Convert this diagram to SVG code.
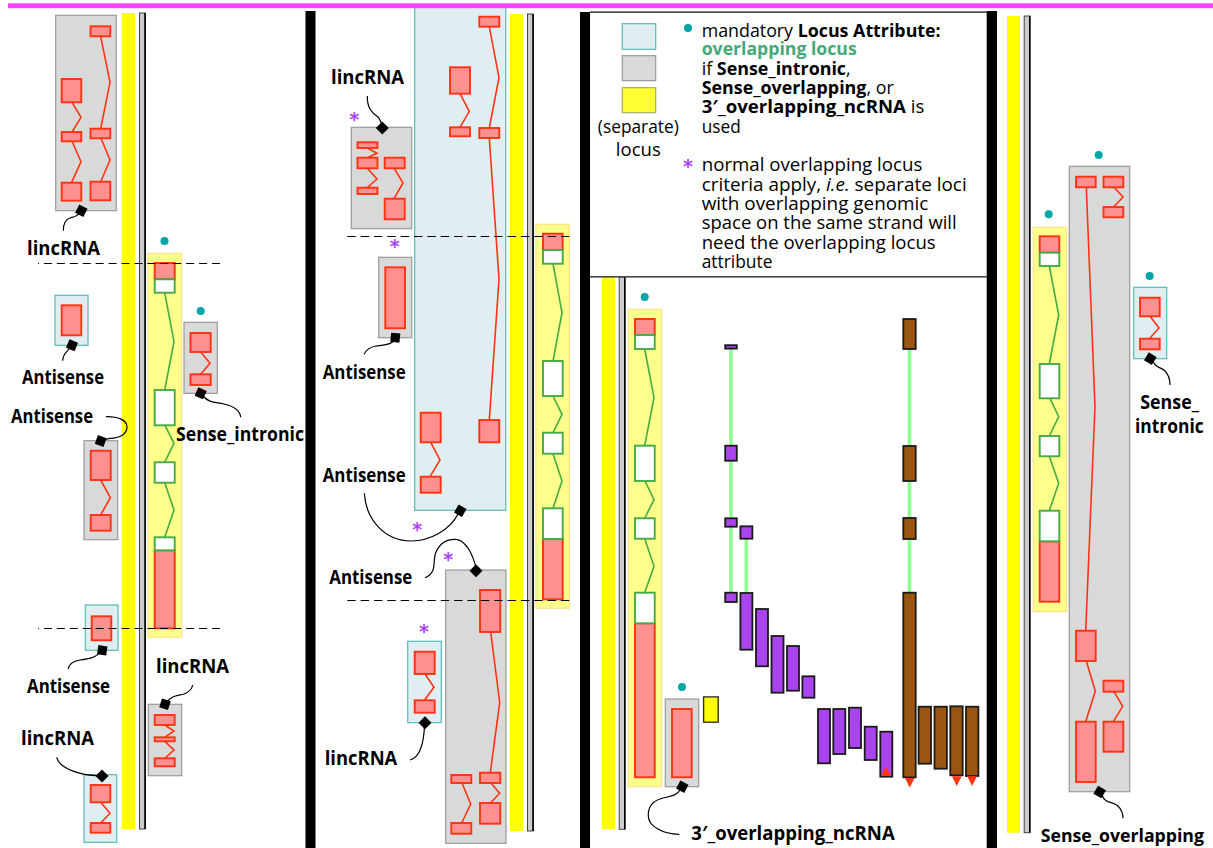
<svg xmlns="http://www.w3.org/2000/svg" xmlns:xlink="http://www.w3.org/1999/xlink" width="1213" height="848" viewBox="0 0 1213 848">
<style>
text{font-family:"Open Sans","Noto Sans","Liberation Sans",sans-serif;fill:#000}
.l{font-weight:700;font-size:19px}
.t{font-size:18px}
.b{font-weight:700}
.ast{font-family:"DejaVu Sans",sans-serif;font-weight:700;font-size:19px;fill:#aa44ff;text-anchor:middle}
.dot{fill:#00a6a6}
.gbox{fill:#d9d9d9;stroke:#999;stroke-width:1.2}
.bbox{fill:#e0eef2;stroke:#55bbbb;stroke-width:1.2}
.pale{fill:#ffff8c;stroke:#ffe08c;stroke-width:1.2}
.yb{fill:#ffff00}
.st{fill:#ccc;stroke:#444;stroke-width:1}
.ex{fill:#ff9090;stroke:#ff3311;stroke-width:1.9}
.wx{fill:#fff;stroke:#44aa44;stroke-width:1.9}
.rl{fill:none;stroke:#ff3311;stroke-width:1.6}
.gl{fill:none;stroke:#44aa44;stroke-width:1.6}
.pu{fill:#aa44ee;stroke:#1a1a1a;stroke-width:1.8}
.br{fill:#995511;stroke:#1a1a1a;stroke-width:1.8}
.in{stroke:#90ff90;stroke-width:3.6;fill:none}
.tri{fill:#ff3311}
.dash{stroke:#000;stroke-width:1.2;fill:none}
.d1{stroke-dasharray:8 4.93;stroke-dashoffset:7}
.d2{stroke-dasharray:8.45 4.9}
.c{fill:none;stroke:#000;stroke-width:1.2}
.bar{fill:#000}
</style>
<defs>
<rect id="d" x="-4.6" y="-4.6" width="9.2" height="9.2" fill="#000"/>
</defs>

<g id="tracks">
<rect class="yb" x="121.7" y="13" width="13.3" height="816"/>
<rect class="st" x="139.5" y="13" width="5.6" height="816"/><rect x="144.3" y="13" width="1.6" height="816"/>
<rect class="yb" x="510" y="14" width="13" height="817"/>
<rect class="st" x="527.5" y="14" width="5.6" height="817"/><rect x="532.3" y="14" width="1.6" height="817"/>
<rect class="yb" x="602" y="277" width="13" height="552.3"/>
<rect class="st" x="619.2" y="277" width="5.6" height="552.3"/><rect x="624" y="277" width="1.6" height="552.3"/>
<rect class="yb" x="1007" y="16" width="13" height="816.7"/>
<rect class="st" x="1024.2" y="16" width="5.6" height="816.7"/><rect x="1029" y="16" width="1.6" height="816.7"/>
</g>

<!-- panel 1 -->
<g id="p1-lincRNA-top">
<rect class="gbox" x="55.7" y="15.3" width="60.6" height="195.4"/>
<polyline class="rl" points="72,102.3 81,117.3 72,132"/><polyline class="rl" points="72,141.3 81,161.7 71.5,182.7"/>
<polyline class="rl" points="100.7,36.3 110,82.3 100.7,128.7"/><polyline class="rl" points="101,138.3 110,160 100.7,181.7"/>
<rect class="ex" x="61.7" y="79" width="19.6" height="23.3"/><rect class="ex" x="61.7" y="132" width="19.6" height="9.3"/><rect class="ex" x="61.7" y="182.7" width="19.6" height="18"/>
<rect class="ex" x="90.5" y="26.3" width="19.8" height="10"/><rect class="ex" x="90.5" y="128.7" width="19.8" height="9.6"/><rect class="ex" x="90.5" y="181.7" width="19.8" height="18.6"/>
<text class="l" x="27" y="255" textLength="73" lengthAdjust="spacingAndGlyphs">lincRNA</text>
</g>
<g id="p1-overlap-gene">
<circle class="dot" cx="164.5" cy="241" r="4"/>
<rect class="pale" x="148" y="253.3" width="33.7" height="384"/>
<polyline class="gl" points="164.7,292.7 174,341.7 164.7,390"/><polyline class="gl" points="165,425.3 174,443.3 164.7,462.3"/><polyline class="gl" points="164.7,482.7 174,510 164.7,537.3"/>
<rect class="ex" x="154.7" y="263" width="20" height="16.3"/><rect class="wx" x="154.7" y="279.3" width="20" height="13.4"/>
<rect class="wx" x="154.7" y="390" width="20" height="35.3"/><rect class="wx" x="154.7" y="462.3" width="20" height="20.4"/>
<rect class="ex" x="154.7" y="550.3" width="20" height="78"/><rect class="wx" x="154.7" y="537.3" width="20" height="13"/>
</g>
<g id="p1-sense-intronic">
<circle class="dot" cx="200.7" cy="311" r="4"/>
<rect class="gbox" x="184" y="322.3" width="33.3" height="71"/>
<polyline class="rl" points="200.7,352 210,363.3 200.7,374.3"/>
<rect class="ex" x="190.5" y="333" width="20.2" height="19"/><rect class="ex" x="190.5" y="374.3" width="20.2" height="10.7"/>
<text class="l" x="176" y="441" textLength="128" lengthAdjust="spacingAndGlyphs">Sense_intronic</text>
</g>
<g id="p1-antisense-a">
<rect class="bbox" x="55" y="295.3" width="33" height="50"/>
<rect class="ex" x="61.7" y="305.3" width="19.6" height="30"/>
<text class="l" x="22" y="384.4" textLength="82" lengthAdjust="spacingAndGlyphs">Antisense</text>
</g>
<g id="p1-antisense-b">
<rect class="gbox" x="84" y="440.7" width="33.7" height="99"/>
<polyline class="rl" points="100.7,480 110.3,497.7 100.7,515"/>
<rect class="ex" x="90.7" y="450.7" width="20" height="29.3"/><rect class="ex" x="90.7" y="515" width="20" height="15.7"/>
<text class="l" x="11" y="423" textLength="82" lengthAdjust="spacingAndGlyphs">Antisense</text>
</g>
<g id="p1-antisense-c">
<rect class="bbox" x="85.3" y="605" width="32.7" height="45.3"/>
<rect class="ex" x="91.7" y="616.3" width="19.6" height="24"/>
<text class="l" x="27" y="693" textLength="83" lengthAdjust="spacingAndGlyphs">Antisense</text>
</g>
<g id="p1-lincRNA-left">
<rect class="bbox" x="84" y="774.7" width="32.7" height="67.6"/>
<polyline class="rl" points="100.7,802.3 110,813.3 100.7,823"/>
<rect class="ex" x="90.7" y="785" width="19.6" height="17.3"/><rect class="ex" x="90.7" y="823" width="19.6" height="9.7"/>
<text class="l" x="21" y="745.4" textLength="73" lengthAdjust="spacingAndGlyphs">lincRNA</text>
</g>
<g id="p1-lincRNA-right">
<rect class="gbox" x="148.3" y="704.3" width="33.4" height="71.4"/>
<polyline class="rl" points="164.7,725 174,731 164.7,737.3"/><polyline class="rl" points="164.7,741.3 174,750 164.7,758.3"/>
<rect class="ex" x="154.7" y="715" width="20" height="10"/><rect class="ex" x="154.7" y="737.3" width="20" height="4"/><rect class="ex" x="154.7" y="758.3" width="20" height="8"/>
<text class="l" x="156" y="673.4" textLength="73" lengthAdjust="spacingAndGlyphs">lincRNA</text>
</g>

<!-- panel 2 -->
<g id="p2-lincRNA-blue">
<rect class="bbox" x="414.7" y="6" width="91" height="504.3"/>
<polyline class="rl" points="489.3,26.7 499,77.7 489.3,128"/><polyline class="rl" points="489.3,138 499,279.3 489.3,420"/>
<polyline class="rl" points="460,93.7 469.3,111.3 460,127.3"/><polyline class="rl" points="430.7,442.3 440,460 430,476.7"/>
<rect class="ex" x="479.3" y="16.7" width="20" height="10"/><rect class="ex" x="479.3" y="128" width="20" height="10"/><rect class="ex" x="479.3" y="420" width="20" height="22.3"/>
<rect class="ex" x="450" y="67.3" width="20" height="26.4"/><rect class="ex" x="450" y="127.3" width="20" height="9"/>
<rect class="ex" x="420.7" y="412.7" width="20" height="29.6"/><rect class="ex" x="420.7" y="476.7" width="20" height="16"/>
<text class="ast" x="417.3" y="536.2">*</text>
<text class="l" x="322.7" y="481.7" textLength="83" lengthAdjust="spacingAndGlyphs">Antisense</text>
</g>
<g id="p2-lincRNA-grey">
<text class="ast" x="354.3" y="125.8">*</text>
<rect class="gbox" x="351.3" y="127.3" width="60.4" height="101.4"/>
<polyline class="rl" points="367.3,148 377,153.3 367.3,157.7"/><polyline class="rl" points="367.3,168.3 377,179 367.3,187.7"/><polyline class="rl" points="394.3,168.3 403,183 394,198.7"/>
<rect class="ex" x="357.5" y="142.3" width="20" height="5.7"/><rect class="ex" x="357.5" y="157.7" width="20" height="10.6"/><rect class="ex" x="357.5" y="187.7" width="20" height="6.3"/>
<rect class="ex" x="384.7" y="157.7" width="20" height="10.6"/><rect class="ex" x="384.7" y="198.7" width="20" height="20.6"/>
<text class="l" x="331" y="84.4" textLength="73" lengthAdjust="spacingAndGlyphs">lincRNA</text>
</g>
<g id="p2-antisense-grey">
<text class="ast" x="394.7" y="252.8">*</text>
<rect class="gbox" x="378.7" y="257.3" width="33" height="80.4"/>
<rect class="ex" x="385.3" y="267.3" width="19.7" height="61"/>
<text class="l" x="322.7" y="378.7" textLength="83" lengthAdjust="spacingAndGlyphs">Antisense</text>
</g>
<g id="p2-overlap-gene">
<rect class="pale" x="536" y="224.3" width="33.3" height="384"/>
<polyline class="gl" points="553,263.7 562,312.7 553,361"/><polyline class="gl" points="553,396 562,414.3 553,432.7"/><polyline class="gl" points="553,453.7 562,481 553,508.3"/>
<rect class="ex" x="543" y="233.7" width="19.7" height="16.3"/><rect class="wx" x="543" y="250" width="19.7" height="13.7"/>
<rect class="wx" x="543" y="361" width="19.7" height="35"/><rect class="wx" x="543" y="432.7" width="19.7" height="21"/>
<rect class="ex" x="543" y="539" width="19.7" height="60.3"/><rect class="wx" x="543" y="508.3" width="19.7" height="30.7"/>
</g>
<g id="p2-antisense-big">
<text class="ast" x="448.3" y="565.5">*</text>
<rect class="gbox" x="445.7" y="570" width="60.3" height="273.3"/>
<polyline class="rl" points="490.7,632 499.7,702.7 490.3,772.7"/><polyline class="rl" points="491,783 499.7,793.3 490.3,803"/><polyline class="rl" points="462,783 470.7,804 461.7,823"/>
<rect class="ex" x="480" y="590" width="20.3" height="42"/><rect class="ex" x="480" y="772.7" width="20.3" height="10.3"/><rect class="ex" x="480" y="803" width="20.3" height="20.7"/>
<rect class="ex" x="451.3" y="775" width="20" height="8"/><rect class="ex" x="451.3" y="823" width="20" height="10.7"/>
<text class="l" x="329.3" y="583.7" textLength="83" lengthAdjust="spacingAndGlyphs">Antisense</text>
</g>
<g id="p2-lincRNA-small">
<text class="ast" x="424" y="637.5">*</text>
<rect class="bbox" x="407.7" y="641.3" width="33.6" height="81.4"/>
<polyline class="rl" points="425,674 434,687.3 424.3,700.3"/>
<rect class="ex" x="414.7" y="651.7" width="20" height="22.3"/><rect class="ex" x="414.7" y="700.3" width="20" height="12.4"/>
<text class="l" x="324.7" y="765.4" textLength="72.6" lengthAdjust="spacingAndGlyphs">lincRNA</text>
</g>

<!-- panel 3 legend -->
<g id="legend">
<rect class="bbox" x="622.3" y="23.7" width="33.4" height="25.6"/>
<rect class="gbox" x="622.3" y="55.7" width="33.4" height="25"/>
<rect x="622.3" y="87.7" width="33.4" height="25" fill="#ffff33" stroke="#aaaa66" stroke-width="1.2"/>
<text class="t" x="638.3" y="132.7" text-anchor="middle" textLength="81" lengthAdjust="spacingAndGlyphs">(separate)</text>
<text class="t" x="638.3" y="156" text-anchor="middle" textLength="45" lengthAdjust="spacingAndGlyphs">locus</text>
<circle class="dot" cx="688" cy="28" r="4"/>
<text class="t" x="701.7" y="36.7" textLength="239" lengthAdjust="spacingAndGlyphs">mandatory <tspan class="b">Locus Attribute:</tspan></text>
<text class="t b" x="701.7" y="55.3" textLength="155" lengthAdjust="spacingAndGlyphs" style="fill:#44aa77">overlapping locus</text>
<text class="t" x="701.7" y="74.7" textLength="149" lengthAdjust="spacingAndGlyphs">if <tspan class="b">Sense_intronic</tspan>,</text>
<text class="t" x="701.7" y="94" textLength="192" lengthAdjust="spacingAndGlyphs"><tspan class="b">Sense_overlapping</tspan>, or</text>
<text class="t" x="701.7" y="113.3" textLength="222.7" lengthAdjust="spacingAndGlyphs"><tspan class="b">3′_overlapping_ncRNA</tspan> is</text>
<text class="t" x="701.7" y="132.7" textLength="39" lengthAdjust="spacingAndGlyphs">used</text>
<text class="ast" x="688" y="172.5">*</text>
<text class="t" x="701.7" y="171.3" textLength="220.7" lengthAdjust="spacingAndGlyphs">normal overlapping locus</text>
<text class="t" x="701.7" y="190.7" textLength="265" lengthAdjust="spacingAndGlyphs">criteria apply, <tspan font-style="italic">i.e.</tspan> separate loci</text>
<text class="t" x="701.7" y="210" textLength="226.7" lengthAdjust="spacingAndGlyphs">with overlapping genomic</text>
<text class="t" x="701.7" y="229.3" textLength="255" lengthAdjust="spacingAndGlyphs">space on the same strand will</text>
<text class="t" x="701.7" y="248.7" textLength="234" lengthAdjust="spacingAndGlyphs">need the overlapping locus</text>
<text class="t" x="701.7" y="268" textLength="70.7" lengthAdjust="spacingAndGlyphs">attribute</text>
</g>

<!-- panel 3 -->
<g id="p3-overlap-gene">
<circle class="dot" cx="644.7" cy="297" r="4"/>
<rect class="pale" x="628.3" y="309.3" width="33.4" height="477.4"/>
<polyline class="gl" points="644.7,349 654,397.7 644.7,445.7"/><polyline class="gl" points="645,481 654,499.7 644.7,518.3"/><polyline class="gl" points="644.7,538.7 654,566.3 644.7,592.7"/>
<rect class="ex" x="635" y="319" width="19.7" height="16"/><rect class="wx" x="635" y="335" width="19.7" height="14"/>
<rect class="wx" x="635" y="445.7" width="19.7" height="35.3"/><rect class="wx" x="635" y="518.3" width="19.7" height="20.4"/>
<rect class="ex" x="635" y="623.3" width="19.7" height="154"/><rect class="wx" x="635" y="592.7" width="19.7" height="30.6"/>
</g>
<g id="p3-three-prime">
<circle class="dot" cx="682" cy="687" r="4"/>
<rect class="gbox" x="665.3" y="699" width="33.4" height="87.7"/>
<rect class="ex" x="672" y="709" width="19.7" height="68.3"/>
<rect x="703.6" y="696.9" width="14.6" height="25.3" fill="#ffff00" stroke="#333" stroke-width="1.4"/>
<text class="l" x="691.3" y="839.5" textLength="203.4" lengthAdjust="spacingAndGlyphs">3′_overlapping_ncRNA</text>
</g>
<g id="p3-purple-gene">
<line class="in" x1="731" y1="348" x2="731" y2="593"/><line class="in" x1="746.3" y1="538" x2="746.3" y2="594"/>
<rect class="pu" x="725.2" y="345.2" width="11.6" height="3.4"/><rect class="pu" x="725.2" y="445.7" width="11.6" height="15"/><rect class="pu" x="725.2" y="518.3" width="11.6" height="8.4"/><rect class="pu" x="725.2" y="592.7" width="11.6" height="9.3"/>
<rect class="pu" x="740.4" y="526.3" width="12" height="12.4"/><rect class="pu" x="740.4" y="593" width="12" height="56.7"/>
<rect class="pu" x="756" y="609" width="12" height="57.3"/><rect class="pu" x="771.5" y="636" width="12" height="56.7"/><rect class="pu" x="787" y="646" width="12" height="44.7"/><rect class="pu" x="802.4" y="676.3" width="12" height="21.4"/>
<rect class="pu" x="818" y="709" width="12" height="54.3"/><rect class="pu" x="833.3" y="709" width="12" height="45"/><rect class="pu" x="849" y="707.7" width="12" height="40.3"/><rect class="pu" x="864.7" y="726.7" width="12" height="33.3"/><rect class="pu" x="880.3" y="731.7" width="12" height="45"/>
<polygon class="tri" points="881,776 891.3,776 886,766.5"/>
</g>
<g id="p3-brown-gene">
<line class="in" x1="909.5" y1="349" x2="909.5" y2="593"/>
<rect class="br" x="903.3" y="319" width="12.4" height="30"/><rect class="br" x="903.3" y="446" width="12.4" height="35"/><rect class="br" x="903.3" y="518" width="12.4" height="21"/><rect class="br" x="903.3" y="592.7" width="12.4" height="184.6"/>
<rect class="br" x="918.6" y="706.7" width="12.4" height="57"/><rect class="br" x="934.5" y="706.7" width="12.4" height="62"/><rect class="br" x="950.3" y="706.3" width="12.4" height="69"/><rect class="br" x="966" y="706.7" width="12.4" height="69.3"/>
<polygon class="tri" points="905,778 914.7,778 909.7,787.5"/><polygon class="tri" points="952,776.3 961.7,776.3 956.7,786"/><polygon class="tri" points="967.3,776.3 977,776.3 972,786"/>
</g>

<!-- panel 4 -->
<g id="p4-overlap-gene">
<circle class="dot" cx="1048.7" cy="214.3" r="4"/>
<rect class="pale" x="1033.3" y="227.3" width="33.4" height="384.4"/>
<polyline class="gl" points="1049.3,266 1058.7,315 1049.3,364"/><polyline class="gl" points="1050,398.3 1058.7,416.7 1049.3,436"/><polyline class="gl" points="1049.3,456.3 1058.7,483.3 1049.3,510.7"/>
<rect class="ex" x="1039.7" y="236.3" width="19.6" height="16.4"/><rect class="wx" x="1039.7" y="252.7" width="19.6" height="13.3"/>
<rect class="wx" x="1039.7" y="364" width="19.6" height="34.3"/><rect class="wx" x="1039.7" y="436" width="19.6" height="20.3"/>
<rect class="ex" x="1039.7" y="541.3" width="19.6" height="60.4"/><rect class="wx" x="1039.7" y="510.7" width="19.6" height="30.6"/>
</g>
<g id="p4-sense-overlapping">
<circle class="dot" cx="1098.7" cy="155" r="4"/>
<rect class="gbox" x="1069.3" y="166.3" width="60.4" height="625.4"/>
<polyline class="rl" points="1086.3,187.3 1095,406.7 1085.7,630.7"/><polyline class="rl" points="1086.3,661 1095.3,691 1085.7,721.7"/>
<polyline class="rl" points="1114,187.3 1123,197 1113.7,207"/><polyline class="rl" points="1114,691.7 1122.7,706.3 1113.3,721.7"/>
<rect class="ex" x="1076" y="176.7" width="19.7" height="10.6"/><rect class="ex" x="1076" y="630.7" width="19.7" height="30.3"/><rect class="ex" x="1076" y="721.7" width="19.7" height="60.3"/>
<rect class="ex" x="1103.5" y="176.7" width="19.8" height="10.6"/><rect class="ex" x="1103.5" y="207" width="19.8" height="10.3"/><rect class="ex" x="1103.5" y="680.7" width="19.8" height="11"/><rect class="ex" x="1103.5" y="721.7" width="19.8" height="30"/>
<text class="l" x="1040.7" y="842.4" textLength="163.3" lengthAdjust="spacingAndGlyphs" style="font-size:18px">Sense_overlapping</text>
</g>
<g id="p4-sense-intronic">
<circle class="dot" cx="1149.7" cy="276" r="4"/>
<rect class="bbox" x="1133.7" y="287.3" width="33" height="71.4"/>
<polyline class="rl" points="1150,316.3 1159,328 1149.3,338.7"/>
<rect class="ex" x="1140" y="297.7" width="19.7" height="18.6"/><rect class="ex" x="1140" y="338.7" width="19.7" height="10.6"/>
<text class="l" x="1140.3" y="409.3" textLength="58.7" lengthAdjust="spacingAndGlyphs">Sense_</text>
<text class="l" x="1135" y="432.6" textLength="68.7" lengthAdjust="spacingAndGlyphs">intronic</text>
</g>

<g id="guides">
<line class="dash d1" x1="38" y1="263.5" x2="220" y2="263.5"/><line class="dash d1" x1="38" y1="628.5" x2="220" y2="628.5"/>
<line class="dash d2" x1="347.3" y1="236.5" x2="569.3" y2="236.5"/><line class="dash d2" x1="347.3" y1="600.5" x2="569.3" y2="600.5"/>
</g>

<g id="connectors">
<path class="c" d="M80,212.5C77,217 73,217 70,218C66,219 63,224 63.3,230.7"/>
<path class="c" d="M70,348C67,352 63,353 62.7,360.7"/>
<path class="c" d="M203,396C209,403 215,402 224,404C233,406 240,410 240.7,417.3"/>
<path class="c" d="M106,416.7C118,416.5 127,420 127,427C127,434 120,438 110,438.3L103,440"/>
<path class="c" d="M100,652C96,658 88,659 80,660C74,661 69,664 68.3,669"/>
<path class="c" d="M56.7,757.3C59,768 80,776 100,775.5"/>
<path class="c" d="M167,702C172,695 178,696 184,694C189,692 192,689 192.7,685"/>
<path class="c" d="M367.3,96C367,108 372,113 378,117C380,119 381,122 382.3,126"/>
<path class="c" d="M394,341C390,345 384,345 376,346C370,347 366,350 364.3,354.3"/>
<path class="c" d="M458,514C450,530 430,541 411,541C385,541 366,520 364.3,493.3"/>
<path class="c" d="M425,577.7C438,572 432,561 436,552C440,543 447,539 455.7,539.3C466,540 473,555 476,568"/>
<path class="c" d="M424.5,725C424,740 421,757 410,760"/>
<path class="c" d="M680,790C676,797 668,796 660,799C651,802 648,808 648.3,816C648.5,826 662,834 679.3,834.3"/>
<path class="c" d="M1153,361C1155,368 1161,367 1165,371C1168,374 1170,379 1170,385"/>
<path class="c" d="M1102,795C1105,804 1113,801 1118,806C1121,809 1123,813 1123,818.3"/>
<use xlink:href="#d" href="#d" transform="translate(81.3,210.7) rotate(27)"/>
<use xlink:href="#d" href="#d" transform="translate(72,345.3) rotate(22)"/>
<use xlink:href="#d" href="#d" transform="translate(200.7,393.3) rotate(24)"/>
<use xlink:href="#d" href="#d" transform="translate(100.7,441) rotate(20)"/>
<use xlink:href="#d" href="#d" transform="translate(102.3,650.3) rotate(8)"/>
<use xlink:href="#d" href="#d" transform="translate(102,776) rotate(45)"/>
<use xlink:href="#d" href="#d" transform="translate(165,704.3) rotate(18)"/>
<use xlink:href="#d" href="#d" transform="translate(382.3,128) rotate(45)"/>
<use xlink:href="#d" href="#d" transform="translate(395.3,337.7) rotate(6)"/>
<use xlink:href="#d" href="#d" transform="translate(460.3,510.7) rotate(30)"/>
<use xlink:href="#d" href="#d" transform="translate(476,570.7) rotate(45)"/>
<use xlink:href="#d" href="#d" transform="translate(425,722.7) rotate(45)"/>
<use xlink:href="#d" href="#d" transform="translate(682.3,786.7) rotate(28)"/>
<use xlink:href="#d" href="#d" transform="translate(1150.3,358.7) rotate(32)"/>
<use xlink:href="#d" href="#d" transform="translate(1099.7,792) rotate(30)"/>
</g>

<g id="frame">
<rect class="bar" x="305.5" y="11" width="10" height="837"/>
<rect class="bar" x="580" y="12" width="10" height="836"/>
<rect class="bar" x="986.7" y="11" width="10.3" height="837"/>
<rect x="590" y="11.5" width="397" height="1.2" fill="#000"/>
<rect x="590" y="276" width="397" height="1.6" fill="#444"/>
<rect x="8" y="3.3" width="1205" height="4.9" fill="#ff44ff"/>
</g>
</svg>
